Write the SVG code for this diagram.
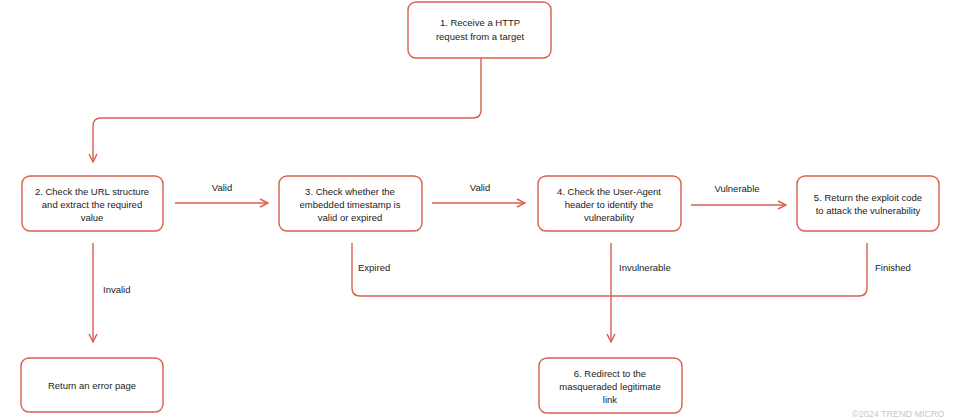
<svg xmlns="http://www.w3.org/2000/svg" width="960" height="420" viewBox="0 0 960 420">
<defs>
<marker id="arr" viewBox="0 0 10 10" refX="9" refY="5" markerWidth="10" markerHeight="10" markerUnits="userSpaceOnUse" orient="auto">
<path d="M1,1 L9,5 L1,9" fill="none" stroke="#d9604c" stroke-width="1.4"/>
</marker>
<style>
.box{fill:#fff;stroke:#d9604c;stroke-width:1.4}
.t{font-family:"Liberation Sans",Arial,sans-serif;font-size:9.5px;fill:#222;text-anchor:middle}
.l{font-family:"Liberation Sans",Arial,sans-serif;font-size:9.5px;fill:#222}
.c{fill:none;stroke:#d9604c;stroke-width:1.4}
</style>
</defs>
<rect width="960" height="420" fill="#fff"/>
<g id="connectors">
<path class="c" d="M481,58 V110 Q481,118 473,118 H101 Q93,118 93,126 V162" marker-end="url(#arr)"/>
<path class="c" d="M175,203 H268" marker-end="url(#arr)"/>
<text class="t" x="222" y="191">Valid</text>
<path class="c" d="M432,203 H525" marker-end="url(#arr)"/>
<text class="t" x="480" y="191">Valid</text>
<path class="c" d="M691,205 H786" marker-end="url(#arr)"/>
<text class="t" x="737" y="192">Vulnerable</text>
<path class="c" d="M93,243 V342" marker-end="url(#arr)"/>
<text class="l" x="103" y="293">Invalid</text>
<path class="c" d="M352,243 V288 Q352,296 360,296 H859 Q867,296 867,288 V243"/>
<text class="l" x="358" y="271">Expired</text>
<text class="l" x="875" y="271">Finished</text>
<path class="c" d="M611,243 V342" marker-end="url(#arr)"/>
<text class="l" x="619" y="271">Invulnerable</text>
</g>
<g id="node1">
<rect class="box" x="408" y="2" width="143" height="56" rx="8"/>
<text class="t" x="480" y="26">1. Receive a HTTP</text>
<text class="t" x="480" y="40">request from a target</text>
</g>
<g id="node2">
<rect class="box" x="22" y="176" width="141" height="55" rx="8"/>
<text class="t" x="92" y="195">2. Check the URL structure</text>
<text class="t" x="92" y="208">and extract the required</text>
<text class="t" x="92" y="221">value</text>
</g>
<g id="node3">
<rect class="box" x="279" y="176" width="143" height="55" rx="8"/>
<text class="t" x="350" y="195">3. Check whether the</text>
<text class="t" x="350" y="208">embedded timestamp is</text>
<text class="t" x="350" y="221">valid or expired</text>
</g>
<g id="node4">
<rect class="box" x="538" y="176" width="143" height="55" rx="8"/>
<text class="t" x="609" y="195">4. Check the User-Agent</text>
<text class="t" x="609" y="208">header to identify the</text>
<text class="t" x="609" y="221">vulnerability</text>
</g>
<g id="node5">
<rect class="box" x="797" y="176" width="142" height="55" rx="8"/>
<text class="t" x="868" y="201">5. Return the exploit code</text>
<text class="t" x="868" y="214">to attack the vulnerability</text>
</g>
<g id="node-error">
<rect class="box" x="21" y="358" width="142" height="54" rx="8"/>
<text class="t" x="92" y="389">Return an error page</text>
</g>
<g id="node6">
<rect class="box" x="539" y="358" width="143" height="55" rx="8"/>
<text class="t" x="610" y="377">6. Redirect to the</text>
<text class="t" x="610" y="390">masqueraded legitimate</text>
<text class="t" x="610" y="403">link</text>
</g>
<text x="852" y="417" style="font-family:'Liberation Sans',Arial,sans-serif;font-size:9px;fill:#c8c8c8">©2024 TREND MICRO</text>
</svg>
